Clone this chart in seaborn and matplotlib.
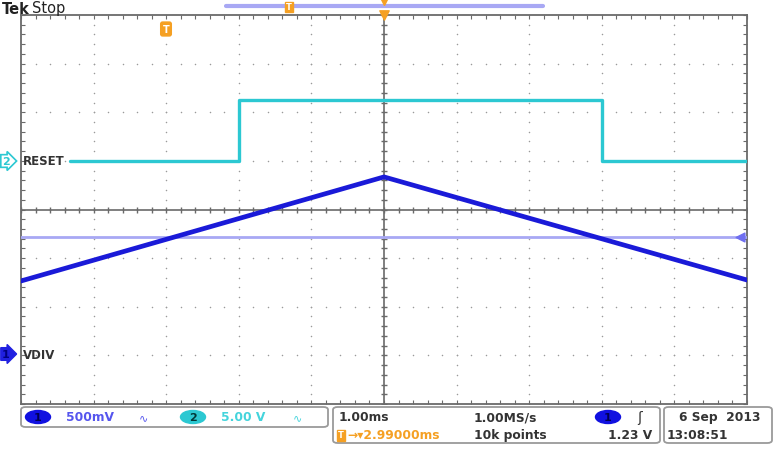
import numpy as np
import pandas as pd
import matplotlib.pyplot as plt
import seaborn as sns
from matplotlib.patches import FancyBboxPatch, Ellipse

# screen in divisions: 10 horizontal (1.00 ms/div), 8 vertical
ch1_t = [-5.0, 0.0, 5.0]          # VDIV triangle
ch1_v = [-1.47, 0.67, -1.45]
ch2_t = [-4.33, -2.0, -2.0, 3.0, 3.0, 5.0]   # RESET pulse
ch2_v = [1.0, 1.0, 2.25, 2.25, 1.0, 1.0]
ch1_ground = -2.98
ch2_ground = 1.0
trig_level = -0.57

W, H = 774, 464
sns.set_style("white")
fig = plt.figure(figsize=(W / 100, H / 100), dpi=100)
ax = fig.add_axes([21 / W, 1 - 405 / H, 726 / W, 389 / H])


def px(x, y):
    return x / W, 1 - y / H


grey = "#6a6a6a"
blue = "#1a1ad8"
cyan = "#2cc8d2"
orange = "#f5a023"
lav = "#a8a8f4"

# graticule dots
for gx in range(-4, 5):
    ys = np.arange(-4, 4.01, 0.2)
    ax.scatter(np.full(len(ys), gx), ys, s=1.2, color="#9a9a9a", lw=0, zorder=1)
for gy in range(-3, 4):
    xs = np.arange(-5, 5.01, 0.2)
    ax.scatter(xs, np.full(len(xs), gy), s=1.2, color="#9a9a9a", lw=0, zorder=1)

ax.axhline(0, color=grey, lw=1.2, zorder=2)
ax.axvline(0, color=grey, lw=1.2, zorder=2)
xs = np.arange(-5, 5.01, 0.2)
ys = np.arange(-4, 4.01, 0.2)
ax.scatter(xs, np.zeros(len(xs)), marker="|", s=18, color=grey, lw=1, zorder=2)
ax.scatter(np.zeros(len(ys)), ys, marker="_", s=18, color=grey, lw=1, zorder=2)

ax.axhline(trig_level, color=lav, lw=2, zorder=3)
ax.scatter([4.9], [trig_level], marker="<", s=40, color="#6f6ff0", zorder=4)

df2 = pd.DataFrame({"t": ch2_t, "v": ch2_v})
df1 = pd.DataFrame({"t": ch1_t, "v": ch1_v})
sns.lineplot(data=df2, x="t", y="v", ax=ax, color=cyan, lw=2.4,
             sort=False, estimator=None, zorder=5)
sns.lineplot(data=df1, x="t", y="v", ax=ax, color=blue, lw=3.4,
             sort=False, estimator=None, zorder=6)

ax.set_xlim(-5, 5)
ax.set_ylim(-4, 4)
ax.set_xlabel("")
ax.set_ylabel("")
ax.set_xticks([])
ax.set_yticks([])
ax.set_xticks(np.arange(-5, 5.01, 0.2), minor=True)
ax.set_yticks(np.arange(-4, 4.01, 0.2), minor=True)
ax.tick_params(which="minor", direction="in", length=3, width=0.8, color=grey,
               top=True, bottom=True, left=True, right=True,
               labelbottom=False, labelleft=False)
for s in ax.spines.values():
    s.set_color(grey)
    s.set_linewidth(1.3)

# channel markers and labels
ax.text(-4.97, ch2_ground, "RESET", color="#333333", fontsize=8.5, weight="bold",
        va="center", ha="left", zorder=7)
ax.text(-4.97, ch1_ground, "VDIV", color="#333333", fontsize=8.5, weight="bold",
        va="center", ha="left", zorder=7)
fig.text(*px(6, 162), "2", color=cyan, fontsize=8, weight="bold", va="center",
         ha="center", bbox=dict(boxstyle="rarrow,pad=0.12", fc="white", ec=cyan, lw=1.2))
fig.text(*px(6, 355), "1", color="#000080", fontsize=8, weight="bold", va="center",
         ha="center", bbox=dict(boxstyle="rarrow,pad=0.12", fc="#2020e0", ec="#2020e0", lw=1))

# top header
fig.text(*px(2, 9), "Tek", fontsize=10.5, weight="bold", color="#222222", va="center")
fig.text(*px(32, 9), "Stop", fontsize=10.5, color="#222222", va="center")
fig.add_artist(plt.Line2D([226 / W, 543 / W], [1 - 7 / H] * 2, color=lav, lw=3))
fig.text(*px(289, 8), "T", fontsize=6, weight="bold", color="white", ha="center",
         va="center", bbox=dict(boxstyle="square,pad=0.1", fc=orange, ec=orange))
fig.text(*px(166, 30), "T", fontsize=7, weight="bold", color="white", ha="center",
         va="center", bbox=dict(boxstyle="round,pad=0.2", fc=orange, ec=orange))
ax.scatter([0], [4], marker="v", s=45, color=orange, zorder=8, clip_on=False)
fig.add_artist(plt.Line2D([384 / W], [1 - 3 / H], marker="v", ms=5, color=orange, lw=0))


# status boxes
def box(x0, y0, x1, y1):
    fig.add_artist(FancyBboxPatch((x0 / W, 1 - y1 / H), (x1 - x0) / W, (y1 - y0) / H,
                                  boxstyle="round,pad=0,rounding_size=0.006",
                                  transform=fig.transFigure, fc="white", ec="#9a9a9a", lw=1.3))


def badge(x, y, label, fc, tc):
    fig.add_artist(Ellipse(px(x, y), 25 / W, 13 / H, transform=fig.transFigure,
                           fc=fc, ec=fc))
    fig.text(*px(x, y), label, fontsize=8, weight="bold", color=tc, ha="center", va="center")


box(21, 408, 328, 428)
box(333, 408, 660, 444)
box(664, 408, 772, 444)

fs = 8.8
badge(38, 418, "1", "#1010e0", "#000050")
fig.text(*px(66, 418), "500mV", fontsize=fs, weight="bold", color="#5555ee", va="center")
fig.text(*px(143, 418), "∿", fontsize=8, color="#5555ee", va="center", ha="center")
badge(193, 418, "2", cyan, "#003838")
fig.text(*px(221, 418), "5.00 V", fontsize=fs, weight="bold", color="#44d4dc", va="center")
fig.text(*px(298, 418), "∿", fontsize=8, color="#44d4dc", va="center", ha="center")

dark = "#333333"
fig.text(*px(339, 418), "1.00ms", fontsize=fs, weight="bold", color=dark, va="center")
fig.text(*px(474, 418), "1.00MS/s", fontsize=fs, weight="bold", color=dark, va="center")
badge(608, 418, "1", "#1010e0", "#000050")
fig.text(*px(640, 418), "ʃ", fontsize=10, color=dark, va="center", ha="center")
fig.text(*px(341, 436), "T", fontsize=6, weight="bold", color="white", ha="center",
         va="center", bbox=dict(boxstyle="square,pad=0.12", fc=orange, ec=orange))
fig.text(*px(347, 436), "→▾2.99000ms", fontsize=fs, weight="bold", color=orange, va="center")
fig.text(*px(474, 436), "10k points", fontsize=fs, weight="bold", color=dark, va="center")
fig.text(*px(652, 436), "1.23 V", fontsize=fs, weight="bold", color=dark, va="center", ha="right")
fig.text(*px(679, 418), "6 Sep  2013", fontsize=fs, weight="bold", color=dark, va="center")
fig.text(*px(667, 436), "13:08:51", fontsize=fs, weight="bold", color=dark, va="center")

fig.savefig("out.png", dpi=100)
